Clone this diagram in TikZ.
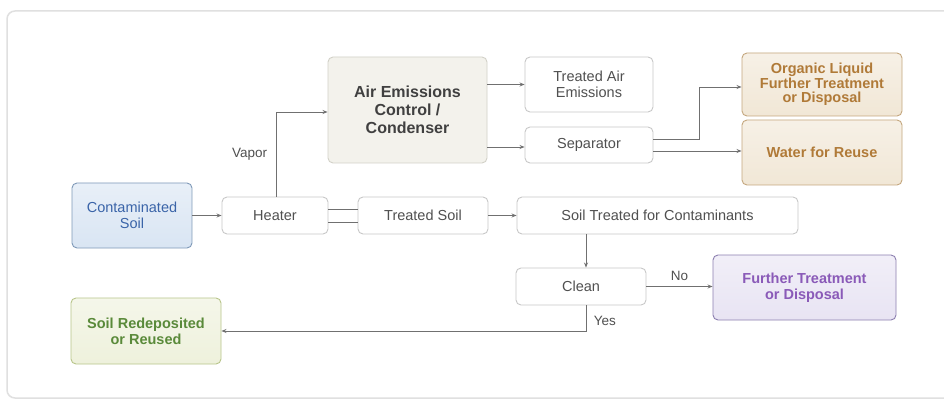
\documentclass[tikz,border=0pt]{standalone}
\usepackage{fontspec}
\setmainfont{Liberation Sans}
\usetikzlibrary{arrows.meta}
\definecolor{boxline}{HTML}{C8C8C8}
\definecolor{txt}{HTML}{505050}
\definecolor{arr}{HTML}{707070}
\definecolor{bluefill}{HTML}{D9E5F3}
\definecolor{blueline}{HTML}{7F99B8}
\definecolor{bluetxt}{HTML}{3A64A8}
\definecolor{airfill}{HTML}{F3F2EC}
\definecolor{airline}{HTML}{D2D1C8}
\definecolor{orfill}{HTML}{F1E7D6}
\definecolor{orline}{HTML}{C4A77E}
\definecolor{ortxt}{HTML}{B07A38}
\definecolor{pufill}{HTML}{E8E4F3}
\definecolor{puline}{HTML}{8C7FB0}
\definecolor{putxt}{HTML}{8A5AB8}
\definecolor{grfill}{HTML}{EEF1DC}
\definecolor{grline}{HTML}{B8C58A}
\definecolor{grtxt}{HTML}{5A8A3A}
\tikzset{
  base/.style={rounded corners=5pt, line width=0.9pt, align=center, inner sep=0pt,
    font=\fontsize{14.5}{16}\selectfont},
  plain/.style={base, draw=boxline, fill=white, text=txt},
  bluebox/.style={base, draw=blueline, top color=bluefill!60, bottom color=bluefill, text=bluetxt},
  airbox/.style={base, draw=airline, fill=airfill, text=txt!80!black, font=\fontsize{16}{18}\selectfont\bfseries},
  orbox/.style={base, draw=orline, top color=orfill!60, bottom color=orfill, text=ortxt, font=\fontsize{14.5}{14.5}\selectfont\bfseries},
  pubox/.style={base, draw=puline, top color=pufill!60, bottom color=pufill, text=putxt, font=\fontsize{14.5}{16}\selectfont\bfseries},
  grbox/.style={base, draw=grline, top color=grfill!60, bottom color=grfill, text=grtxt, font=\fontsize{14.5}{16}\selectfont\bfseries},
  conn/.style={draw=arr, line width=0.9pt, -{Stealth[length=5pt,width=4pt]}},
  link/.style={draw=arr, line width=0.9pt},
  lbl/.style={text=txt, font=\fontsize{13.5}{15}\selectfont}
}
\begin{document}
\begin{tikzpicture}[x=1pt,y=-1pt]
\useasboundingbox (0,0) rectangle (944,403);
\fill[white] (0,0) rectangle (944,403);
\draw[draw=black!12, line width=1.5pt, rounded corners=8pt] (7,11) -- (960,11) -- (960,398) -- (7,398) -- cycle;

\node[bluebox, minimum width=120pt, minimum height=65pt] (cont) at (132,215.5) {Contaminated\\Soil};
\node[plain, minimum width=106pt, minimum height=37pt] (heater) at (275,215.5) {Heater};
\node[plain, minimum width=130pt, minimum height=37pt] (tsoil) at (423,215.5) {Treated Soil};
\node[plain, minimum width=281pt, minimum height=37pt] (stc) at (657.5,215.5) {Soil Treated for Contaminants};
\node[airbox, minimum width=159pt, minimum height=106pt] (air) at (407.5,110) {Air Emissions\\Control /\\Condenser};
\node[plain, minimum width=128pt, minimum height=55pt] (tae) at (589,84.5) {Treated Air\\Emissions};
\node[plain, minimum width=128pt, minimum height=36pt] (sep) at (589,145) {Separator};
\node[orbox, minimum width=160pt, minimum height=63pt] (org) at (822,84.5) {Organic Liquid\\Further Treatment\\or Disposal};
\node[orbox, minimum width=160pt, minimum height=65pt] (water) at (822,152.5) {Water for Reuse};
\node[plain, minimum width=130pt, minimum height=37pt] (clean) at (581,286.5) {Clean};
\node[pubox, minimum width=183pt, minimum height=65pt] (further) at (804.5,287.5) {Further Treatment\\or Disposal};
\node[grbox, minimum width=150pt, minimum height=66pt] (redep) at (146,331) {Soil Redeposited\\or Reused};

\coordinate (cx) at (586,0);
\coordinate (sx) at (699,0);

\draw[conn] (cont.east) -- (heater.west);
\draw[link] ([yshift=-6.5pt]heater.east) -- ([yshift=-6.5pt]tsoil.west);
\draw[link] ([yshift=6.5pt]heater.east) -- ([yshift=6.5pt]tsoil.west);
\draw[conn] (tsoil.east) -- (stc.west);
\draw[conn] ([xshift=1pt]heater.north) |- node[lbl, pos=0.25, left=5pt] {Vapor} ([yshift=-2pt]air.west);
\draw[conn] (air.east |- tae.west) -- (tae.west);
\draw[conn] ([yshift=-2pt]air.east |- sep.west) -- ([yshift=-2pt]sep.west);
\draw[conn] ([yshift=6pt]sep.east) -| ([yshift=-2.5pt]sx |- org.west) -- ([yshift=-2.5pt]org.west);
\draw[conn] ([yshift=-6pt]sep.east) -- ([yshift=-6pt]sep.east -| water.west);
\draw[conn] (stc.south -| cx) -- (clean.north -| cx);
\draw[conn] (clean.east) -- node[lbl, above=2pt, pos=0.5] {No} (clean.east -| further.west);
\draw[conn] (clean.south -| cx) |- node[lbl, pos=0.3, right=4pt] {Yes} (redep.east);
\end{tikzpicture}
\end{document}
